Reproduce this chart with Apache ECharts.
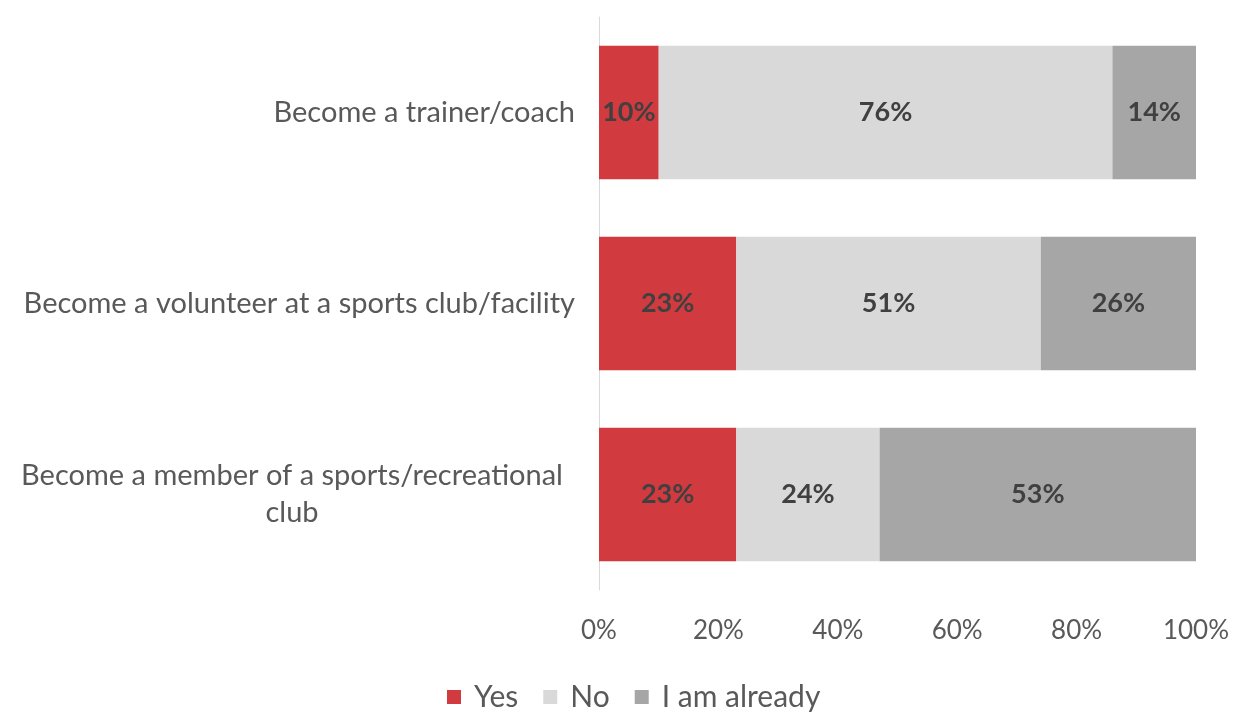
<!DOCTYPE html>
<html>
<head>
<meta charset="utf-8">
<script src="https://cdn.jsdelivr.net/npm/echarts@6/dist/echarts.min.js"></script>
<style>
  html, body { margin: 0; padding: 0; background: #ffffff; }
  #chart { width: 1240px; height: 716px; }
</style>
</head>
<body>
<div id="chart"></div>
<script>
// Survey answers, one row per activity (top to bottom)
const categories = [
  'Become a trainer/coach',
  'Become a volunteer at a sports club/facility',
  'Become a member of a sports/recreational\nclub'
];
const seriesNames = ['Yes', 'No', 'I am already'];
const yesValues = [10, 23, 23];
const noValues = [76, 51, 24];
const alreadyValues = [14, 26, 53];
const xTicks = [0, 20, 40, 60, 80, 100];

const colors = ['#d13b40', '#d9d9d9', '#a6a6a6'];
const fontFamily = 'Lato, "Open Sans", sans-serif';

function makeSeries(name, values, color) {
  return {
    name: name,
    type: 'bar',
    stack: 'total',
    barWidth: '70%',
    data: values,
    itemStyle: { color: color },
    label: {
      show: true,
      position: 'inside',
      formatter: p => p.value + '%',
      color: '#404040',
      fontWeight: 'bold',
      fontSize: 27,
      fontFamily: fontFamily
    },
    emphasis: { disabled: true }
  };
}

const chart = echarts.init(document.getElementById('chart'), null, { renderer: 'canvas' });
chart.setOption({
  animation: false,
  color: colors,
  grid: { left: 599, right: 44, top: 17, bottom: 126, containLabel: false },
  legend: {
    data: seriesNames,
    left: 442,
    top: 677,
    padding: 5,
    icon: 'rect',
    itemWidth: 14,
    itemHeight: 14,
    itemGap: 25,
    textStyle: { color: '#595959', fontSize: 30, fontFamily: fontFamily, padding: [0, 0, 0, 8] }
  },
  xAxis: {
    type: 'value',
    min: xTicks[0],
    max: xTicks[xTicks.length - 1],
    interval: 20,
    axisLine: { show: false },
    axisTick: { show: false },
    splitLine: { show: false },
    axisLabel: {
      formatter: v => v + '%',
      color: '#595959',
      fontSize: 26,
      fontFamily: fontFamily,
      margin: 28
    }
  },
  yAxis: {
    type: 'category',
    inverse: true,
    data: categories,
    axisLine: { show: true, lineStyle: { color: '#d9d9d9', width: 1 } },
    axisTick: { show: false },
    axisLabel: {
      color: '#595959',
      fontSize: 29,
      fontFamily: fontFamily,
      margin: 24,
      lineHeight: 37,
      formatter: function (v) {
        if (v.indexOf('\n') >= 0) {
          return v.split('\n').map(s => '{c|' + s + '}').join('\n');
        }
        return v;
      },
      rich: {
        c: { width: 566, align: 'center', color: '#595959', fontSize: 29, fontFamily: fontFamily, lineHeight: 37 }
      }
    }
  },
  series: [
    makeSeries(seriesNames[0], yesValues, colors[0]),
    makeSeries(seriesNames[1], noValues, colors[1]),
    makeSeries(seriesNames[2], alreadyValues, colors[2])
  ]
});
</script>
</body>
</html>
